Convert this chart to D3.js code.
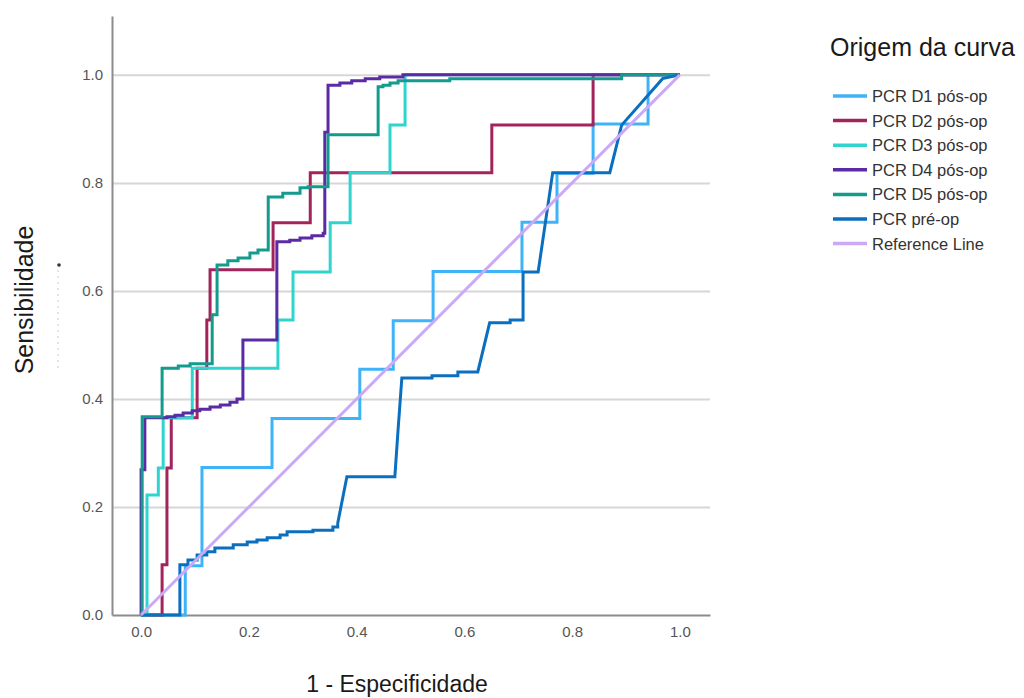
<!DOCTYPE html>
<html>
<head>
<meta charset="utf-8">
<script src="https://cdn.jsdelivr.net/npm/d3@7"></script>
<style>
  body { margin: 0; background: #fff; }
  text { font-family: 'Liberation Sans', Arial, sans-serif; }
  .tick text { fill: #555; font-size: 15px; }
</style>
</head>
<body onload="init()">
<svg width="1024" height="698"></svg>
<script>
// curve names, in legend order
const seriesNames = ['PCR D1 pós-op', 'PCR D2 pós-op', 'PCR D3 pós-op', 'PCR D4 pós-op', 'PCR D5 pós-op', 'PCR pré-op', 'Reference Line'];
const xTicks = [0, 0.2, 0.4, 0.6, 0.8, 1.0];
const yTicks = [0, 0.2, 0.4, 0.6, 0.8, 1.0];

// ROC points (1 - especificidade, sensibilidade)
const d1Fpr = [0, 0.082, 0.113, 0.243, 0.406, 0.468, 0.542, 0.707, 0.772, 0.839, 0.941, 1];
const d1Tpr = [0, 0.091, 0.273, 0.364, 0.455, 0.545, 0.636, 0.727, 0.818, 0.909, 1, 1];

const d2Fpr = [0, 0.039, 0.048, 0.056, 0.104, 0.122, 0.128, 0.245, 0.314, 0.651, 0.839, 1];
const d2Tpr = [0, 0.093, 0.272, 0.365, 0.457, 0.546, 0.639, 0.726, 0.819, 0.907, 1, 1];

const d3Fpr = [0, 0.011, 0.032, 0.041, 0.095, 0.254, 0.282, 0.351, 0.388, 0.462, 0.49, 1];
const d3Tpr = [0, 0.222, 0.272, 0.365, 0.457, 0.546, 0.635, 0.726, 0.819, 0.907, 1, 1];

const d4Fpr = [0, 0, 0.007, 0.048, 0.063, 0.078, 0.095, 0.109, 0.128, 0.147, 0.165, 0.178, 0.189, 0.189, 0.252, 0.276, 0.295, 0.317, 0.338, 0.341, 0.347, 0.369, 0.391, 0.416, 0.443, 0.486, 1];
const d4Tpr = [0, 0.269, 0.365, 0.367, 0.370, 0.374, 0.378, 0.381, 0.385, 0.389, 0.394, 0.4, 0.407, 0.509, 0.691, 0.694, 0.698, 0.702, 0.707, 0.894, 0.981, 0.985, 0.989, 0.993, 0.996, 1, 1];

const d5Fpr = [0, 0.002, 0.039, 0.069, 0.091, 0.132, 0.132, 0.141, 0.161, 0.180, 0.202, 0.217, 0.236, 0.263, 0.295, 0.310, 0.347, 0.44, 0.449, 0.462, 0.477, 0.573, 0.892, 1];
const d5Tpr = [0, 0.367, 0.457, 0.461, 0.465, 0.469, 0.556, 0.648, 0.656, 0.661, 0.670, 0.676, 0.774, 0.781, 0.791, 0.793, 0.889, 0.978, 0.981, 0.985, 0.989, 0.993, 1, 1];

// pre-op has tied values, so its points are joined with straight lines
const preFpr = [0, 0.072, 0.072, 0.087, 0.087, 0.104, 0.104, 0.122, 0.122, 0.137, 0.137, 0.171, 0.171, 0.197, 0.197, 0.215, 0.215, 0.234, 0.234, 0.258, 0.258, 0.271, 0.271, 0.319, 0.319, 0.356, 0.356, 0.365, 0.365, 0.382, 0.471, 0.477, 0.484, 0.540, 0.540, 0.588, 0.588, 0.625, 0.647, 0.685, 0.685, 0.709, 0.709, 0.737, 0.764, 0.870, 0.892, 0.968, 1];
const preTpr = [0, 0, 0.093, 0.093, 0.102, 0.102, 0.111, 0.111, 0.117, 0.117, 0.124, 0.124, 0.130, 0.130, 0.135, 0.135, 0.139, 0.139, 0.143, 0.143, 0.148, 0.148, 0.154, 0.154, 0.157, 0.157, 0.163, 0.163, 0.170, 0.256, 0.256, 0.343, 0.439, 0.439, 0.443, 0.443, 0.45, 0.45, 0.541, 0.541, 0.546, 0.546, 0.635, 0.635, 0.819, 0.819, 0.907, 0.993, 1];

const refFpr = [0, 1];
const refTpr = [0, 1];

const colors = ['#3fb3f7', '#a3245c', '#2fd4cf', '#5b2aa5', '#139b8e', '#0b6fc0', '#cba9f7'];

function init() {
  const svg = d3.select('svg');
  const xs = d3.scaleLinear().domain([-0.054, 1.056]).range([112, 710]);
  const ys = d3.scaleLinear().domain([0, 1.109]).range([615, 16]);

  const series = [
    {fpr: d1Fpr, tpr: d1Tpr, step: true},
    {fpr: d2Fpr, tpr: d2Tpr, step: true},
    {fpr: d3Fpr, tpr: d3Tpr, step: true},
    {fpr: d4Fpr, tpr: d4Tpr, step: true},
    {fpr: d5Fpr, tpr: d5Tpr, step: true},
    {fpr: preFpr, tpr: preTpr, step: false},
    {fpr: refFpr, tpr: refTpr, step: false}
  ].map((s, i) => Object.assign(s, {name: seriesNames[i], color: colors[i]}));

  // gridlines
  const grid = svg.append('g')
    .attr('transform', 'translate(112,0)')
    .call(d3.axisLeft(ys).tickValues(yTicks.slice(1)).tickSize(-598).tickFormat(''));
  grid.select('.domain').remove();
  grid.selectAll('line').attr('stroke', '#d6d6d6').attr('stroke-width', 2);

  // axes
  svg.append('g')
    .attr('transform', 'translate(112,0)')
    .call(d3.axisLeft(ys).tickValues(yTicks).tickSize(0).tickPadding(9).tickFormat(d3.format('.1f')));
  svg.append('g')
    .attr('transform', 'translate(0,615)')
    .call(d3.axisBottom(xs).tickValues(xTicks).tickSize(0).tickPadding(11).tickFormat(d3.format('.1f')));
  svg.selectAll('.domain').attr('stroke', '#8c8c8c').attr('stroke-width', 2);
  svg.selectAll('.tick text').attr('font-family', null).attr('font-size', null);

  // curves
  series.forEach(s => {
    const line = d3.line()
      .x(i => xs(s.fpr[i]))
      .y(i => ys(s.tpr[i]))
      .curve(s.step ? d3.curveStepAfter : d3.curveLinear);
    svg.append('path')
      .attr('d', line(d3.range(s.fpr.length)))
      .attr('fill', 'none')
      .attr('stroke', s.color)
      .attr('stroke-width', 3)
      .attr('stroke-linejoin', 'miter');
  });

  // axis titles
  svg.append('text')
    .attr('transform', 'translate(33,300) rotate(-90)')
    .attr('text-anchor', 'middle')
    .attr('font-size', 25)
    .attr('fill', '#1a1a1a')
    .text('Sensibilidade');
  svg.append('text')
    .attr('x', 397).attr('y', 692)
    .attr('text-anchor', 'middle')
    .attr('font-size', 23)
    .attr('fill', '#1a1a1a')
    .text('1 - Especificidade');

  // small stray mark next to the y title
  svg.append('line')
    .attr('x1', 58).attr('x2', 58).attr('y1', 270).attr('y2', 368)
    .attr('stroke', '#c8c8c8').attr('stroke-width', 1).attr('stroke-dasharray', '2,4');
  svg.append('circle').attr('cx', 59).attr('cy', 265).attr('r', 1.8).attr('fill', '#333');

  // legend
  svg.append('text')
    .attr('x', 830).attr('y', 56)
    .attr('font-size', 25)
    .attr('fill', '#1a1a1a')
    .text('Origem da curva');
  const leg = svg.append('g').attr('transform', 'translate(833,96)')
    .selectAll('g')
    .data(series)
    .enter()
    .append('g')
      .attr('transform', (d, i) => 'translate(0,' + (i * 24.6) + ')');
  leg.append('line')
    .attr('x1', 0).attr('x2', 34)
    .attr('stroke', d => d.color)
    .attr('stroke-width', 3.5);
  leg.append('text')
    .attr('x', 39).attr('dy', '0.36em')
    .attr('font-size', 16.5)
    .attr('fill', '#333')
    .text(d => d.name);
}
</script>
</body>
</html>
